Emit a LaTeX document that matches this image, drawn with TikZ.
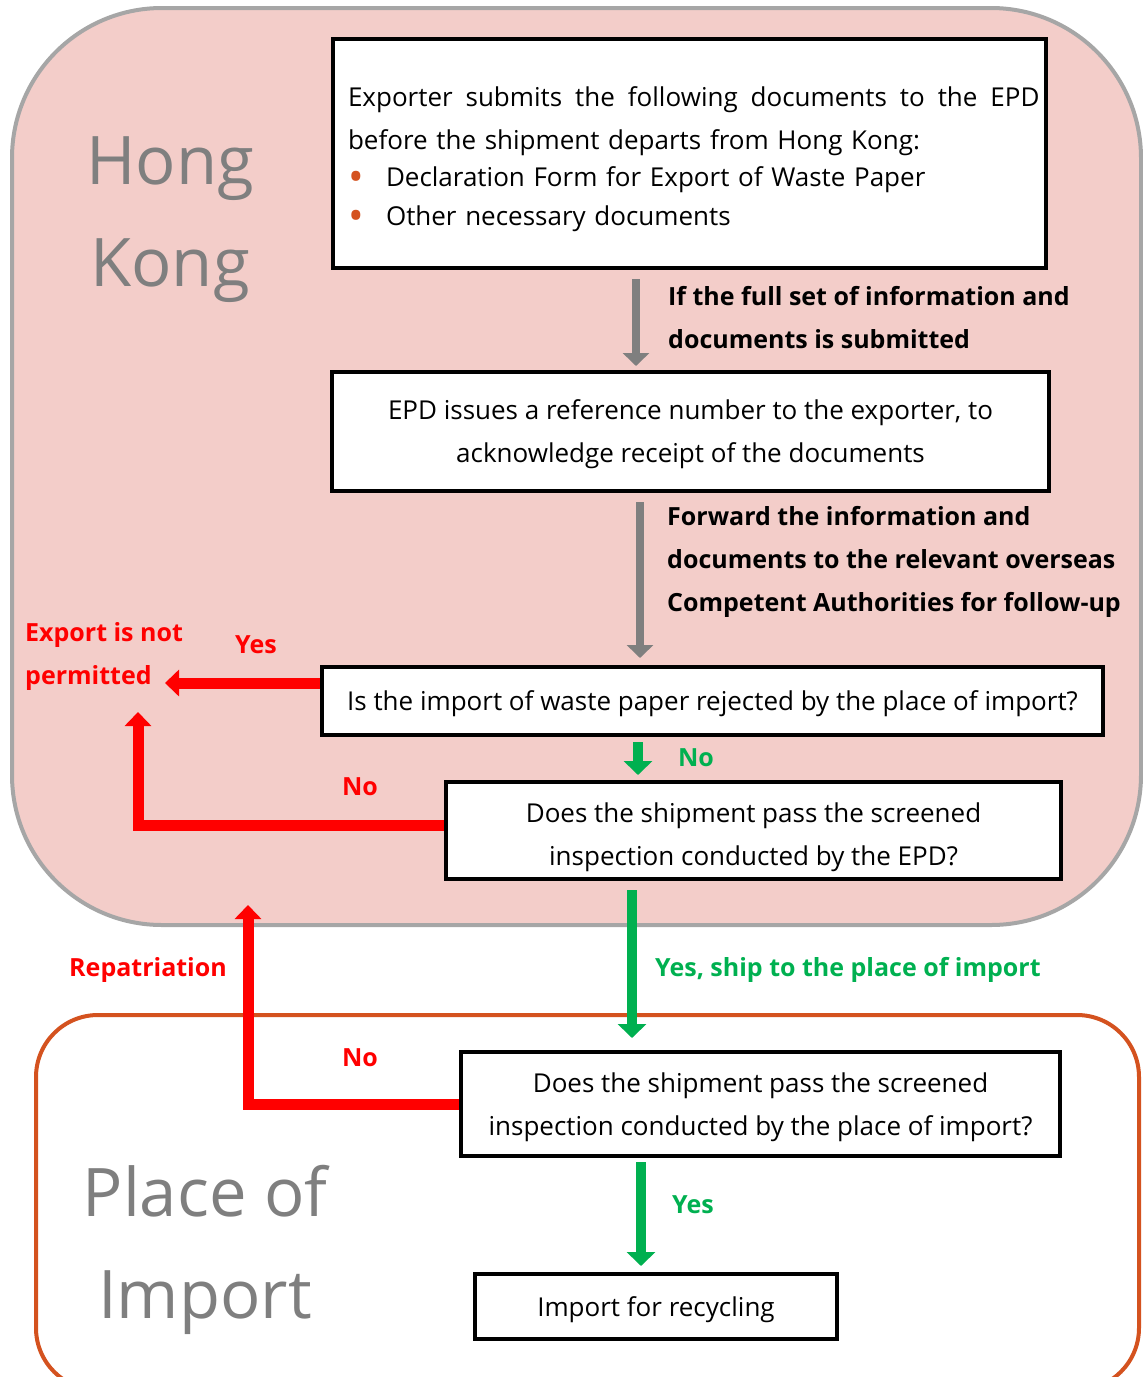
\documentclass[tikz,border=0pt]{standalone}
\usepackage{fontspec}
\setmainfont{Open Sans}
\usetikzlibrary{arrows.meta,positioning}
\definecolor{FigurePink}{HTML}{F3CDC9}
\definecolor{FigureGrey}{HTML}{A6A6A6}
\definecolor{FigureRust}{HTML}{D4521F}
\definecolor{FigureArrow}{HTML}{7F7F7F}
\definecolor{FigureRed}{HTML}{FF0000}
\definecolor{FigureGreen}{HTML}{00B050}
\newcommand{\dotitem}[1]{\hspace*{8.5pt}\makebox[38pt][l]{\textcolor{FigureRust}{\raisebox{-5pt}{\scalebox{1.6}{\textbullet}}}}#1}

\begin{document}
\begin{tikzpicture}[x=1pt,y=-1pt,line join=miter,
  stepbox/.style={draw=black,line width=4pt,fill=white,inner sep=0pt,align=center,text depth=0pt,font=\fontsize{26}{43}\selectfont},
  note/.style={inner sep=0pt,align=left,font=\bfseries\fontsize{25}{43}\selectfont},
  region/.style={inner sep=0pt,align=center,text=FigureArrow,font=\fontsize{67}{102}\selectfont},
  greyflow/.style={draw=FigureArrow,line width=8pt,-{Triangle[width=26pt,length=13pt]}},
  noflow/.style={draw=FigureRed,line width=11pt,-{Triangle[width=26pt,length=14pt]}},
  yesflow/.style={draw=FigureGreen,line width=10pt,-{Triangle[width=28pt,length=14pt]}}]
  \useasboundingbox (0,0) rectangle (1143,1377);
  \clip (0,0) rectangle (1143,1377);
  \draw[FigureGrey,fill=FigurePink,line width=4pt,rounded corners=150pt] (12,8) rectangle (1141,925);
  \draw[FigureRust,line width=4pt,rounded corners=62pt] (36,1015) rectangle (1139,1390);
  \node[region] (hk) at (170,220) {Hong\\Kong};
  \node[region] (poi) at (205,1250) {Place of\\Import};

  \node[stepbox,text depth=,minimum width=713pt,minimum height=229pt,text width=700pt,align=left] (submit) at (689.5,153.5)
    {\hspace*{8.5pt}\hbox to 691.5pt{\rule{0pt}{32pt}Exporter\hfill submits\hfill the\hfill following\hfill documents\hfill to\hfill the\hfill EPD}\\%
     \hspace*{8.5pt}before the shipment departs from Hong Kong:\\[-6pt]%
     \dotitem{Declaration Form for Export of Waste Paper}\\[-4pt]%
     \dotitem{Other necessary documents}};
  \node[stepbox,minimum width=717pt,minimum height=119pt] (refno) at (690.5,431.5)
    {EPD issues a reference number to the exporter, to\\acknowledge receipt of the documents};
  \node[stepbox,minimum width=781pt,minimum height=68pt] (rejected) at (712.5,701)
    {Is the import of waste paper rejected by the place of import?};
  \node[stepbox,minimum width=615pt,minimum height=97pt] (epdcheck) at (753.5,830.5)
    {\rule{0pt}{26pt}Does the shipment pass the screened\\inspection conducted by the EPD?};
  \node[stepbox,minimum width=599pt,minimum height=104pt] (importcheck) at (760.5,1104)
    {Does the shipment pass the screened\\inspection conducted by the place of import?};
  \node[stepbox,minimum width=362pt,minimum height=65pt] (recycle) at (656,1306.5) {Import for recycling};

  \node[note,anchor=west] (fullset) at (668,317.5) {If the full set of information and\\documents is submitted};
  \node[note,anchor=west] (forward) at (667,562) {Forward the information and\\documents to the relevant overseas\\Competent Authorities for follow-up};
  \node[note,anchor=west,text=FigureRed] (refuse) at (25,656.5) {Export is not\\permitted};
  \node[note,text=FigureRed] (yesreject) at (256,645) {Yes};
  \node[note,text=FigureGreen] (noreject) at (696,758) {No};
  \node[note,text=FigureRed] (epdfail) at (360,787) {No};
  \node[note,anchor=west,text=FigureGreen] (ship) at (655,970) {Yes, ship to the place of import};
  \node[note,text=FigureRed] (repatriation) at (148,970) {Repatriation};
  \node[note,text=FigureRed] (importfail) at (360,1058) {No};
  \node[note,text=FigureGreen] (importpass) at (693,1205) {Yes};

  \coordinate (refuseA) at (165,683);\coordinate (refuseB) at (138,712);\coordinate (back) at (248,905);
  \draw[greyflow,shorten <=9pt,shorten >=4pt] (636,0 |- submit.south) -- (636,0 |- refno.north);
  \draw[greyflow,shorten <=9pt,shorten >=7pt] (640,0 |- refno.south) -- (640,0 |- rejected.north);
  \draw[yesflow,shorten <=5pt,shorten >=5pt] (638,0 |- rejected.south) -- (638,0 |- epdcheck.north);
  \draw[yesflow,shorten <=9pt,shorten >=12pt] (632,0 |- epdcheck.south) -- (632,0 |- importcheck.north);
  \draw[yesflow,shorten <=4pt,shorten >=6pt] (641,0 |- importcheck.south) -- (641,0 |- recycle.north);
  \draw[noflow] ([yshift=18pt]rejected.west) -- (refuseA);
  \draw[noflow] ([yshift=5pt]epdcheck.west) -| (refuseB);
  \draw[noflow] (importcheck.west) -| (back);
\end{tikzpicture}
\end{document}
